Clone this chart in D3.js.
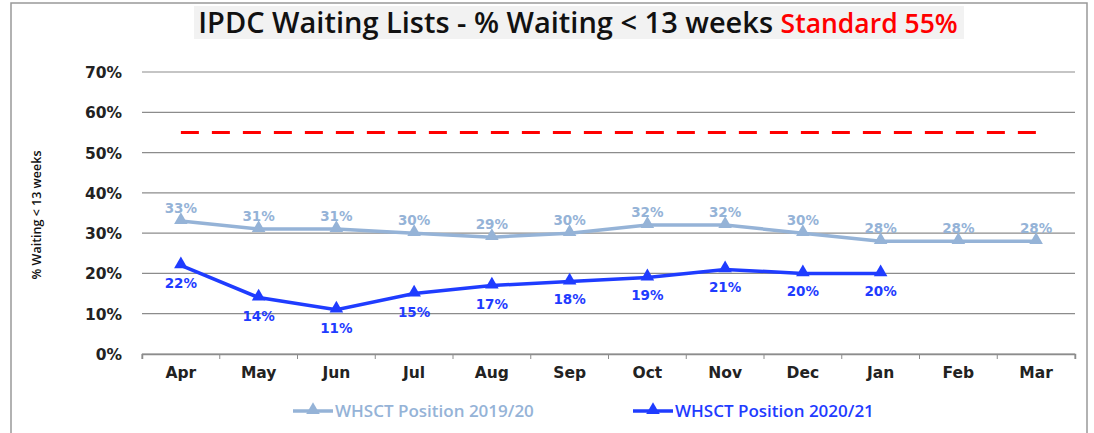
<!DOCTYPE html>
<html>
<head>
<meta charset="utf-8">
<script src="https://cdn.jsdelivr.net/npm/d3@7"></script>
<style>
  body { margin: 0; background: #fff; }
  svg { display: block; }
  .axis text { font-family: "DejaVu Sans", Verdana, sans-serif; font-weight: bold; font-size: 15.5px; fill: #222; }
</style>
</head>
<body>
<svg id="chart"></svg>
<script>
const months = ['Apr', 'May', 'Jun', 'Jul', 'Aug', 'Sep', 'Oct', 'Nov', 'Dec', 'Jan', 'Feb', 'Mar'];
const pos1920 = [33, 31, 31, 30, 29, 30, 32, 32, 30, 28, 28, 28];
const pos2021 = [22, 14, 11, 15, 17, 18, 19, 21, 20, 20];
const standard = 55;
const yTicks = [0, 10, 20, 30, 40, 50, 60, 70];

const width = 1094, height = 433;
const margin = { top: 72, right: 19, bottom: 79, left: 142 };
const innerW = width - margin.left - margin.right;
const innerH = height - margin.top - margin.bottom;

const light = '#95b3d7';
const dark = '#1f3cff';

const svg = d3.select('#chart')
  .attr('width', width)
  .attr('height', height);

// outer frame
svg.append('rect')
  .attr('x', 11).attr('y', 3)
  .attr('width', 1076).attr('height', 440)
  .attr('fill', 'none')
  .attr('stroke', '#999')
  .attr('stroke-width', 1.5);

// title
svg.append('rect')
  .attr('x', 194).attr('y', 6)
  .attr('width', 770).attr('height', 33)
  .attr('fill', '#f2f2f2');

const title = svg.append('text')
  .attr('x', 578).attr('y', 33)
  .attr('text-anchor', 'middle')
  .style('font-family', '"Open Sans", sans-serif')
  .style('font-weight', '600')
  .style('font-size', '29px');
title.append('tspan').attr('fill', '#111').text('IPDC Waiting Lists - % Waiting < 13 weeks ');
title.append('tspan').attr('fill', '#ff0000').style('font-size', '26.5px').text('Standard 55%');

const chart = svg.append('g')
  .attr('transform', `translate(${margin.left},${margin.top})`);

const xScale = d3.scaleBand().domain(months).range([0, innerW]);
const yScale = d3.scaleLinear().domain([0, 70]).range([innerH, 0]);
const xc = d => xScale(d) + xScale.bandwidth() / 2;

// gridlines
chart.append('g')
  .selectAll('line')
  .data(yTicks)
  .join('line')
  .attr('x1', 0).attr('x2', innerW)
  .attr('y1', d => yScale(d)).attr('y2', d => yScale(d))
  .attr('stroke', '#8c8c8c')
  .attr('stroke-width', 1.2);

// y axis labels
const yAxis = d3.axisLeft(yScale)
  .tickValues(yTicks)
  .tickSize(0)
  .tickPadding(20)
  .tickFormat(d => d + '%');
chart.append('g')
  .attr('class', 'axis')
  .call(yAxis)
  .call(g => g.select('.domain').remove())
  .selectAll('text').attr('dy', '0.35em');

// x axis
const xAxis = d3.axisBottom(xScale)
  .tickSize(5)
  .tickPadding(8)
  .tickSizeOuter(5);
const xAxisG = chart.append('g')
  .attr('class', 'axis')
  .attr('transform', `translate(0,${innerH})`)
  .call(xAxis);
xAxisG.select('.domain').attr('stroke', '#8c8c8c').attr('stroke-width', 1.5);
xAxisG.selectAll('.tick line').remove();
// category separators
xAxisG.selectAll('.sep')
  .data(d3.range(months.length + 1))
  .join('line')
  .attr('x1', i => i * xScale.bandwidth()).attr('x2', i => i * xScale.bandwidth())
  .attr('y1', 0).attr('y2', 5)
  .attr('stroke', '#8c8c8c');

// y title
svg.append('text')
  .attr('transform', 'translate(41,215) rotate(-90)')
  .attr('text-anchor', 'middle')
  .style('font-family', '"Open Sans", sans-serif')
  .style('font-weight', '600')
  .style('font-size', '12.5px')
  .attr('fill', '#111')
  .text('% Waiting < 13 weeks');

// standard line
chart.append('line')
  .attr('x1', xc(months[0])).attr('x2', xc(months[months.length - 1]))
  .attr('y1', yScale(standard)).attr('y2', yScale(standard))
  .attr('stroke', '#ff0000')
  .attr('stroke-width', 3)
  .attr('stroke-dasharray', '18,13');

const line = d3.line()
  .x((d, i) => xc(months[i]))
  .y(d => yScale(d));

const tri = d3.symbol().type(d3.symbolTriangle).size(80);

function drawSeries(data, color, width, labelDy, weight) {
  const g = chart.append('g');
  g.append('path')
    .attr('d', line(data))
    .attr('fill', 'none')
    .attr('stroke', color)
    .attr('stroke-width', width);
  g.selectAll('.pt')
    .data(data)
    .join('path')
    .attr('d', tri)
    .attr('transform', (d, i) => `translate(${xc(months[i])},${yScale(d) - 1})`)
    .attr('fill', color);
  g.selectAll('.lbl')
    .data(data)
    .join('text')
    .attr('x', (d, i) => xc(months[i]))
    .attr('y', d => yScale(d) + labelDy)
    .attr('text-anchor', 'middle')
    .style('font-family', '"DejaVu Sans", Verdana, sans-serif')
    .style('font-weight', weight)
    .style('font-size', '13.5px')
    .attr('fill', color)
    .text(d => d + '%');
}

drawSeries(pos1920, light, 3.5, -8, 'bold');
drawSeries(pos2021, dark, 3.5, 23, 'bold');

// legend
const legend = svg.append('g').attr('transform', 'translate(0,411)');
const legendItems = [
  { label: 'WHSCT Position 2019/20', color: light, x: 293 },
  { label: 'WHSCT Position 2020/21', color: dark, x: 633 }
];
legendItems.forEach(it => {
  legend.append('line')
    .attr('x1', it.x).attr('x2', it.x + 40)
    .attr('y1', 0).attr('y2', 0)
    .attr('stroke', it.color)
    .attr('stroke-width', 3.5);
  legend.append('path')
    .attr('d', tri)
    .attr('transform', `translate(${it.x + 20},-1)`)
    .attr('fill', it.color);
  legend.append('text')
    .attr('x', it.x + 42).attr('y', 6)
    .style('font-family', '"Open Sans", sans-serif')
    .style('font-weight', '600')
    .style('font-size', '17px')
    .attr('fill', it.color)
    .text(it.label);
});
</script>
</body>
</html>
